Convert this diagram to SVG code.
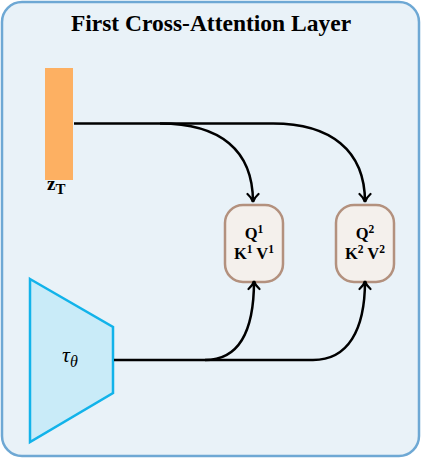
<svg xmlns="http://www.w3.org/2000/svg" width="422" height="459" viewBox="0 0 422 459">
<defs>
<marker id="ah" viewBox="0 0 14 14" refX="11" refY="7" markerWidth="14" markerHeight="14" markerUnits="userSpaceOnUse" orient="auto">
<path d="M3,1.5 Q7,6 11,7 Q7,8 3,12.5" fill="none" stroke="#000" stroke-width="2.2" stroke-linecap="round"/>
</marker>
</defs>
<style>
.t{font-family:"Liberation Serif","DejaVu Serif",serif;font-weight:bold;fill:#000}
.node rect{fill:#f4f0ec;stroke:#b3917e;stroke-width:2.5}
.conn path{fill:none;stroke:#000;stroke-width:2.5}
</style>
<rect x="2" y="2" width="417" height="454" rx="20" fill="#e9f2f8" stroke="#6ea8d4" stroke-width="2.5"/>
<text class="t" x="211" y="31" font-size="23.5" text-anchor="middle">First Cross-Attention Layer</text>
<g id="zT">
<rect x="45" y="68" width="28" height="112" fill="#fdb062"/>
<text class="t" x="47" y="190" font-size="19">z<tspan font-size="15" dy="4">T</tspan></text>
</g>
<g id="tau">
<polygon points="30,279 113,327 113,393 30,442" fill="#c9ebf8" stroke="#12b3ea" stroke-width="2.5"/>
<text x="62" y="362" font-family="'Liberation Serif','DejaVu Serif',serif" font-style="italic" font-size="22">τ<tspan font-size="16" dy="5">θ</tspan></text>
</g>
<g id="qkv1" class="node">
<rect x="225" y="205" width="58" height="77" rx="18"/>
<text class="t" x="254" y="239" font-size="16.5" text-anchor="middle">Q<tspan font-size="11.5" dy="-6">1</tspan></text>
<text class="t" x="254" y="259" font-size="16.5" text-anchor="middle">K<tspan font-size="11.5" dy="-6">1</tspan><tspan dy="6"> V</tspan><tspan font-size="11.5" dy="-6">1</tspan></text>
</g>
<g id="qkv2" class="node">
<rect x="336" y="205" width="58" height="77" rx="18"/>
<text class="t" x="365" y="239" font-size="16.5" text-anchor="middle">Q<tspan font-size="11.5" dy="-6">2</tspan></text>
<text class="t" x="365" y="259" font-size="16.5" text-anchor="middle">K<tspan font-size="11.5" dy="-6">2</tspan><tspan dy="6"> V</tspan><tspan font-size="11.5" dy="-6">2</tspan></text>
</g>
<g id="connectors" class="conn">
<path d="M74,123.5 H160 C220,123.5 253,150 253,202" marker-end="url(#ah)"/>
<path d="M160,123.5 H273 C330,123.5 365,150 365,202" marker-end="url(#ah)"/>
<path d="M114,360 H205 C240,360 254,330 254,281" marker-end="url(#ah)"/>
<path d="M205,360 H313 C348,360 365,330 365,281" marker-end="url(#ah)"/>
</g>
</svg>
